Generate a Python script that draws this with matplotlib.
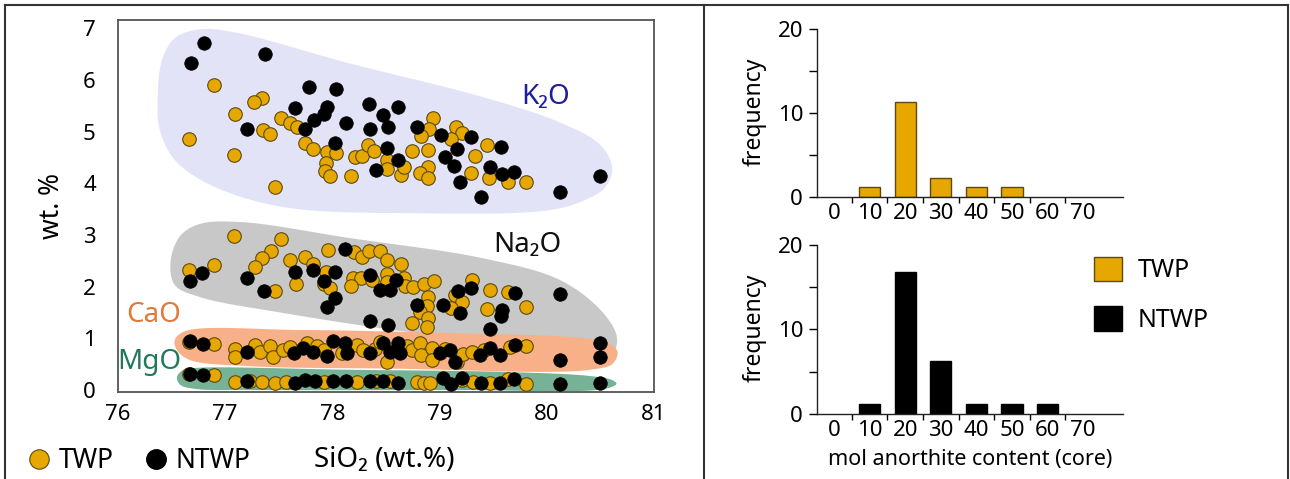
import numpy as np
import matplotlib
matplotlib.use('Agg')
import matplotlib.pyplot as plt
from matplotlib.lines import Line2D
from matplotlib.patches import Patch, Polygon

plt.rcParams['font.family'] = ['Noto Sans', 'DejaVu Sans']

# ---- scatter data: SiO2 vs oxide (wt.%) ----
k2o_twp_x = [76.90, 77.34, 77.27, 77.09, 76.66, 77.08, 77.46, 77.35, 77.42, 77.52, 77.60, 77.67,
             77.74, 77.82, 77.95, 78.03, 77.94, 77.93, 77.98, 78.17, 78.21, 78.28, 78.33, 78.39,
             78.51, 78.51, 78.64, 78.67, 78.74, 78.89, 78.89, 78.82, 78.89, 78.94, 78.90, 78.83,
             79.15, 79.21, 79.11, 79.33, 79.29, 79.44, 79.46, 79.64, 79.81]
k2o_twp_y = [5.90, 5.65, 5.58, 5.35, 4.85, 4.55, 3.93, 5.03, 4.95, 5.27, 5.16, 5.08,
             4.78, 4.66, 4.61, 4.58, 4.40, 4.24, 4.14, 4.15, 4.51, 4.53, 4.75, 4.62,
             4.45, 4.27, 4.16, 4.32, 4.62, 4.64, 4.32, 4.19, 4.11, 5.27, 5.06, 4.92,
             5.09, 4.98, 4.85, 4.53, 4.20, 4.74, 4.11, 4.02, 4.02]
k2o_ntwp_x = [76.80, 76.68, 77.37, 77.78, 78.03, 77.65, 77.95, 77.92, 77.83, 77.74, 77.20, 78.13,
              78.02, 78.34, 78.61, 78.47, 78.35, 78.52, 78.79, 79.01, 79.29, 79.16, 78.51, 78.61,
              78.41, 79.05, 79.13, 79.19, 79.39, 79.57, 79.47, 79.58, 79.69, 80.12, 80.50]
k2o_ntwp_y = [6.71, 6.33, 6.51, 5.87, 5.82, 5.45, 5.47, 5.35, 5.22, 5.06, 5.06, 5.16,
              4.78, 5.53, 5.48, 5.33, 5.06, 5.09, 5.08, 4.93, 4.89, 4.66, 4.69, 4.45,
              4.26, 4.50, 4.33, 4.02, 3.73, 4.71, 4.32, 4.18, 4.22, 3.84, 4.15]

na2o_twp_x = [76.66, 76.90, 77.08, 77.52, 77.43, 77.34, 77.28, 77.46, 77.60, 77.74, 77.82, 77.66,
              77.94, 77.96, 77.92, 77.98, 78.20, 78.28, 78.34, 78.44, 78.51, 78.64, 78.19, 78.27,
              78.17, 78.37, 78.51, 78.51, 78.67, 78.68, 78.75, 78.85, 78.95, 78.89, 78.88, 78.82,
              78.89, 78.74, 78.88, 79.14, 79.21, 79.11, 79.30, 79.47, 79.64, 79.44, 79.81]
na2o_twp_y = [2.32, 2.42, 2.97, 2.93, 2.68, 2.55, 2.37, 1.91, 2.51, 2.58, 2.43, 2.05,
              2.28, 2.71, 2.05, 1.97, 2.66, 2.58, 2.69, 2.68, 2.51, 2.43, 2.16, 2.16,
              2.01, 2.13, 2.24, 2.08, 2.16, 2.02, 1.99, 2.06, 2.10, 1.79, 1.63, 1.50,
              1.40, 1.29, 1.21, 1.84, 1.71, 1.58, 2.13, 1.93, 1.90, 1.56, 1.61]
na2o_ntwp_x = [76.67, 76.78, 77.20, 77.36, 77.65, 77.82, 78.02, 77.92, 78.02, 77.95, 78.12, 78.35,
               78.44, 78.54, 78.59, 78.79, 78.35, 78.52, 79.03, 79.17, 79.29, 79.19, 79.58, 79.57,
               79.47, 79.70, 80.12, 80.50]
na2o_ntwp_y = [2.11, 2.27, 2.17, 1.91, 2.28, 2.32, 2.29, 2.11, 1.77, 1.60, 2.73, 2.22,
               1.93, 1.93, 2.13, 1.64, 1.33, 1.26, 1.64, 1.91, 1.97, 1.48, 1.55, 1.43,
               1.18, 1.88, 1.86, 0.91]

cao_twp_x = [76.66, 76.90, 77.09, 77.09, 77.28, 77.32, 77.42, 77.45, 77.54, 77.60, 77.76, 77.86,
             77.92, 78.09, 78.23, 78.29, 78.40, 78.44, 78.51, 78.70, 78.74, 78.82, 78.83, 78.93,
             78.93, 79.05, 79.16, 79.22, 79.30, 79.41, 79.66, 79.81]
cao_twp_y = [0.93, 0.88, 0.79, 0.64, 0.87, 0.74, 0.86, 0.64, 0.77, 0.84, 0.90, 0.86,
             0.77, 0.71, 0.87, 0.77, 0.80, 0.93, 0.55, 0.86, 0.77, 0.90, 0.68, 0.81,
             0.58, 0.80, 0.55, 0.70, 0.74, 0.77, 0.84, 0.85]
cao_ntwp_x = [76.67, 76.79, 77.20, 77.64, 77.73, 77.82, 77.95, 78.01, 78.12, 78.14, 78.35, 78.47,
              78.61, 78.54, 78.63, 79.00, 79.10, 79.14, 79.38, 79.47, 79.56, 79.70, 80.12, 80.50]
cao_ntwp_y = [0.95, 0.88, 0.74, 0.72, 0.81, 0.74, 0.66, 0.95, 0.90, 0.71, 0.71, 0.90,
              0.90, 0.74, 0.71, 0.71, 0.77, 0.55, 0.68, 0.81, 0.68, 0.87, 0.58, 0.64]

mgo_twp_x = [76.66, 76.90, 77.09, 77.23, 77.34, 77.46, 77.57, 77.92, 78.23, 78.41, 78.54, 78.79,
             78.85, 78.91, 79.21, 79.31, 79.47, 79.64, 79.81]
mgo_twp_y = [0.30, 0.29, 0.16, 0.18, 0.16, 0.14, 0.16, 0.16, 0.16, 0.18, 0.18, 0.16,
             0.13, 0.14, 0.19, 0.16, 0.13, 0.21, 0.12]
mgo_ntwp_x = [76.67, 76.79, 77.20, 77.65, 77.74, 77.84, 78.01, 78.13, 78.35, 78.47, 78.61, 79.03,
              79.11, 79.21, 79.39, 79.56, 79.69, 80.12, 80.50]
mgo_ntwp_y = [0.31, 0.29, 0.18, 0.14, 0.19, 0.18, 0.18, 0.18, 0.18, 0.18, 0.14, 0.23,
              0.12, 0.23, 0.13, 0.13, 0.21, 0.12, 0.14]

# hand-drawn field outlines (SiO2, wt.%)
k2o_field_x = [76.37, 76.41, 76.53, 76.76, 77.09, 78.16, 79.40, 80.12, 80.50, 80.61, 80.54, 80.36,
               80.03, 78.79, 77.54, 76.86, 76.53, 76.39]
k2o_field_y = [5.61, 6.38, 6.81, 6.98, 6.92, 6.32, 5.67, 5.18, 4.74, 4.29, 3.91, 3.68,
               3.48, 3.42, 3.54, 3.97, 4.45, 5.03]
na2o_field_x = [76.49, 76.58, 76.76, 77.14, 78.16, 79.40, 80.12, 80.50, 80.65, 80.63, 80.50, 79.72,
                78.79, 77.54, 76.76, 76.53]
na2o_field_y = [2.48, 2.98, 3.21, 3.25, 2.94, 2.55, 2.13, 1.55, 1.06, 0.77, 0.74, 0.91,
                1.10, 1.49, 1.80, 2.03]
cao_field_x = [76.53, 76.63, 77.70, 79.10, 80.31, 80.57, 80.66, 80.61, 80.40, 80.03, 78.63, 77.23,
               76.67, 76.55]
cao_field_y = [0.97, 1.14, 1.16, 1.10, 1.01, 0.91, 0.74, 0.50, 0.39, 0.35, 0.41, 0.46,
               0.58, 0.77]
mgo_field_x = [76.55, 76.61, 76.76, 78.16, 79.56, 80.40, 80.61, 80.65, 80.54, 79.10, 77.23, 76.72, 76.58]
mgo_field_y = [0.25, 0.39, 0.43, 0.39, 0.35, 0.27, 0.19, 0.12, 0.02, 0.00, 0.00, 0.02, 0.10]

# ---- histogram data: mol anorthite content (core) ----
an_labels = ['0', '10', '20', '30', '40', '50', '60', '70']
twp_freq = [0, 1.2, 11.3, 2.3, 1.2, 1.2, 0, 0]
ntwp_freq = [0, 1.2, 16.8, 6.3, 1.2, 1.2, 1.2, 0]

yellow = '#E6A800'
yellow_edge = '#5C4A10'


def smooth_closed(xs, ys, n=30):
    # closed centripetal Catmull-Rom curve through the outline points
    pts = np.column_stack([xs, ys]) * np.array([1.0, 0.5])
    m = len(pts)
    out = []
    for i in range(m):
        p0, p1, p2, p3 = pts[(i - 1) % m], pts[i], pts[(i + 1) % m], pts[(i + 2) % m]
        t0 = 0.0
        t1 = t0 + np.linalg.norm(p1 - p0) ** 0.5
        t2 = t1 + np.linalg.norm(p2 - p1) ** 0.5
        t3 = t2 + np.linalg.norm(p3 - p2) ** 0.5
        t = np.linspace(t1, t2, n, endpoint=False)[:, None]
        a1 = (t1 - t) / (t1 - t0) * p0 + (t - t0) / (t1 - t0) * p1
        a2 = (t2 - t) / (t2 - t1) * p1 + (t - t1) / (t2 - t1) * p2
        a3 = (t3 - t) / (t3 - t2) * p2 + (t - t2) / (t3 - t2) * p3
        b1 = (t2 - t) / (t2 - t0) * a1 + (t - t0) / (t2 - t0) * a2
        b2 = (t3 - t) / (t3 - t1) * a2 + (t - t1) / (t3 - t1) * a3
        out.append((t2 - t) / (t2 - t1) * b1 + (t - t1) / (t2 - t1) * b2)
    return np.vstack(out) / np.array([1.0, 0.5])


fig = plt.figure(figsize=(12.9, 4.79), dpi=100)

# ---- left: oxide variation diagram ----
ax = fig.add_axes([118 / 1290, 87 / 479, 536 / 1290, 372 / 479])
fields = [(k2o_field_x, k2o_field_y, '#E3E3F8'),
          (na2o_field_x, na2o_field_y, '#C8C8C8'),
          (cao_field_x, cao_field_y, '#F8B088'),
          (mgo_field_x, mgo_field_y, '#76B295')]
for fx, fy, c in fields:
    ax.add_patch(Polygon(smooth_closed(fx, fy), closed=True, facecolor=c, edgecolor='none', zorder=1))

groups = [(k2o_twp_x, k2o_twp_y, k2o_ntwp_x, k2o_ntwp_y),
          (na2o_twp_x, na2o_twp_y, na2o_ntwp_x, na2o_ntwp_y),
          (cao_twp_x, cao_twp_y, cao_ntwp_x, cao_ntwp_y),
          (mgo_twp_x, mgo_twp_y, mgo_ntwp_x, mgo_ntwp_y)]
for tx, ty, nx, ny in groups:
    ax.scatter(tx, ty, s=95, c=yellow, edgecolors=yellow_edge, linewidths=0.8, zorder=3)
    ax.scatter(nx, ny, s=95, c='black', edgecolors='black', linewidths=0.5, zorder=4)

ax.text(79.99, 5.67, 'K₂O', color='#1E1E9C', fontsize=20, ha='center', va='center', zorder=5)
ax.text(79.82, 2.80, 'Na₂O', color='#111111', fontsize=20, ha='center', va='center', zorder=5)
ax.text(76.33, 1.45, 'CaO', color='#E2783A', fontsize=20, ha='center', va='center', zorder=5)
ax.text(76.29, 0.54, 'MgO', color='#1F7A5A', fontsize=20, ha='center', va='center', zorder=5)

ax.set_xlim(76, 81)
ax.set_ylim(-0.04, 7.16)
ax.set_xticks([76, 77, 78, 79, 80, 81])
ax.set_yticks(range(8))
ax.tick_params(axis='both', length=0, labelsize=16)
ax.tick_params(axis='x', pad=9)
ax.tick_params(axis='y', pad=16)
for sp in ax.spines.values():
    sp.set_color('#555555')
    sp.set_linewidth(1.3)
ax.set_ylabel('wt. %', fontsize=19, labelpad=12)

fig.text(384 / 1290, 19 / 479, 'SiO₂ (wt.%)', fontsize=20, ha='center', va='center')
left_handles = [Line2D([], [], marker='o', ls='none', ms=14, mfc=yellow, mec=yellow_edge, mew=0.8),
                Line2D([], [], marker='o', ls='none', ms=14, mfc='black', mec='black')]
fig.legend(left_handles, ['TWP', 'NTWP'], loc='center left', bbox_to_anchor=(10 / 1290, 18 / 479),
           ncol=2, frameon=False, fontsize=19, handletextpad=0.15, columnspacing=1.0,
           borderpad=0, handlelength=1.2)

# ---- right: plagioclase core histograms ----
idx = np.arange(len(an_labels))


def hist_axes(rect, freq, color, edge):
    h = fig.add_axes(rect)
    freq = np.asarray(freq)
    keep = freq > 0
    h.bar(idx[keep], freq[keep], width=0.6, color=color, edgecolor=edge, linewidth=1.0)
    h.set_xlim(-0.48, 8.12)
    h.set_ylim(0, 20.35)
    h.set_xticks(idx)
    h.set_xticklabels(an_labels)
    h.set_xticks(idx[:-1] + 0.5, minor=True)
    h.tick_params(axis='x', which='major', length=0, pad=4, labelsize=16)
    h.tick_params(axis='x', which='minor', length=4, direction='out', width=1)
    h.set_yticks([0, 10, 20])
    h.set_yticks([5, 15], minor=True)
    h.tick_params(axis='y', which='both', length=6, width=1, labelsize=16, pad=4)
    h.spines['top'].set_visible(False)
    h.spines['right'].set_visible(False)
    h.spines['left'].set_bounds(0, 20)
    for s in ('left', 'bottom'):
        h.spines[s].set_color('#222222')
        h.spines[s].set_linewidth(1.0)
    h.set_ylabel('frequency', fontsize=16.5, labelpad=8)
    return h


hist_axes([817 / 1290, 282 / 479, 306 / 1290, 171 / 479], twp_freq, yellow, yellow_edge)
hb = hist_axes([817 / 1290, 65 / 479, 306 / 1290, 172 / 479], ntwp_freq, 'black', 'black')
hb.set_xlabel('mol anorthite content (core)', fontsize=15.5, labelpad=6)

right_handles = [Patch(facecolor=yellow, edgecolor=yellow_edge), Patch(facecolor='black', edgecolor='black')]
fig.legend(right_handles, ['TWP', 'NTWP'], loc='upper left', bbox_to_anchor=(1081 / 1290, 235 / 479),
           frameon=False, fontsize=18, handlelength=1.12, handleheight=1.16, labelspacing=0.92,
           handletextpad=0.65, borderpad=0)

# figure frame and panel divider
frame_kw = dict(color='#333333', lw=1.5, transform=fig.transFigure)
fig.add_artist(Line2D([5 / 1290, 1288 / 1290], [474 / 479, 474 / 479], **frame_kw))
fig.add_artist(Line2D([5 / 1290, 5 / 1290], [0, 474 / 479], **frame_kw))
fig.add_artist(Line2D([1288 / 1290, 1288 / 1290], [0, 474 / 479], **frame_kw))
fig.add_artist(Line2D([704 / 1290, 704 / 1290], [0, 474 / 479], **frame_kw))

fig.savefig('out.png', dpi=100)
